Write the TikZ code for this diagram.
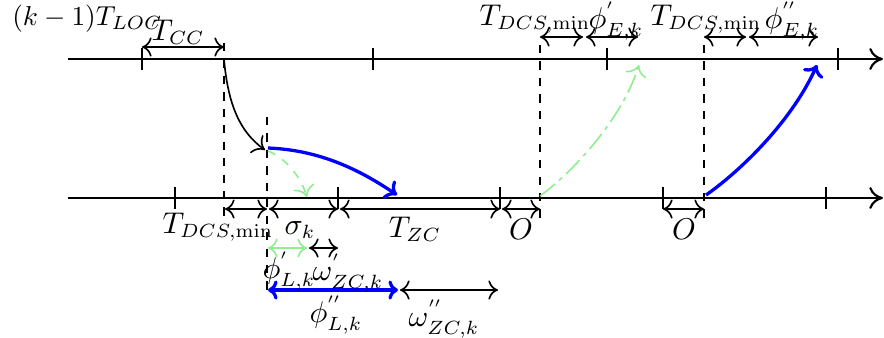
\documentclass[tikz,border=0pt]{standalone}
\usepackage{tikz}
\usetikzlibrary{arrows.meta, calc}
\definecolor{ltgreen}{RGB}{144,238,144}
\DeclareMathSizes{10.5}{10.5}{7.2}{5}

\begin{document}
\begin{tikzpicture}[
    x=0.365pt, y=-0.365pt,
    axis/.style={-{To[length=5pt, width=8pt]}, thick},
    tickmark/.style={thick},
    dim/.style={{To[length=3.5pt, width=7pt]}-{To[length=3.5pt, width=7pt]}, semithick},
    vguide/.style={dashed, semithick},
    flow/.style={-{To[length=4pt, width=8pt]}, semithick},
    lbl/.style={inner sep=1pt, font=\fontsize{10.5}{12}\selectfont}
]
    \useasboundingbox (0,0) rectangle (884,337);

    % axes
    \coordinate (topL) at (68,59);
    \coordinate (topR) at (883,59);
    \coordinate (botL) at (68,198);
    \coordinate (botR) at (883,198);
    \draw[axis] (topL) -- (topR);
    \draw[axis] (botL) -- (botR);
    \foreach \x in {142,373,607,838}
        \draw[tickmark] (\x,48) -- (\x,70);
    \foreach \x in {175,338,500,663,826}
        \draw[tickmark] (\x,187) -- (\x,209);

    % dashed guides
    \coordinate (g1a) at (224,43);  \coordinate (g1b) at (224,217);
    \coordinate (g2a) at (267,117); \coordinate (g2b) at (267,295);
    \coordinate (g3a) at (540,45);  \coordinate (g3b) at (540,224);
    \coordinate (g4a) at (704,45);  \coordinate (g4b) at (704,224);
    \foreach \a/\b in {g1a/g1b, g2a/g2b, g3a/g3b, g4a/g4b}
        \draw[vguide] (\a) -- (\b);

    % top dimensions
    \coordinate (cc0) at (142,47); \coordinate (cc1) at (224,47);
    \coordinate (da0) at (540,37); \coordinate (da1) at (583,37); \coordinate (ea1) at (638,37);
    \coordinate (db0) at (704,37); \coordinate (db1) at (746,37); \coordinate (eb1) at (818,37);
    \draw[dim] (cc0) -- (cc1);
    \draw[dim] (da0) -- (da1);
    \draw[dim] ($(da1)+(3,0)$) -- (ea1);
    \draw[dim] (db0) -- (db1);
    \draw[dim] ($(db1)+(3,0)$) -- (eb1);

    % bottom dimensions
    \coordinate (b0) at (225,209); \coordinate (b1) at (267,209);
    \coordinate (b2) at (338,209); \coordinate (b3) at (500,209);
    \coordinate (b4) at (540,209); \coordinate (b5) at (663,209);
    \coordinate (b6) at (704,209);
    \draw[dim] (b0) -- (b1);
    \draw[dim] ($(b1)+(2,0)$) -- (b2);
    \draw[dim] ($(b2)+(2,0)$) -- (b3);
    \draw[dim] ($(b3)+(2,0)$) -- (b4);
    \draw[dim] (b5) -- (b6);

    \coordinate (s0) at (268,248); \coordinate (s1) at (307,248); \coordinate (s2) at (338,248);
    \draw[dim, ltgreen] (s0) -- (s1);
    \draw[dim] ($(s1)+(2,0)$) -- (s2);
    \coordinate (w0) at (268,290); \coordinate (w1) at (398,290); \coordinate (w2) at (498,290);
    \draw[dim, blue, very thick] (w0) -- (w1);
    \draw[dim] ($(w1)+(2,0)$) -- (w2);

    % flows
    \coordinate (lk) at (265,150);
    \coordinate (bs) at (268,148); \coordinate (be) at (397,195);
    \coordinate (gs) at (268,151); \coordinate (ge) at (307,197);
    \coordinate (es1) at (540,196); \coordinate (ee1) at (639,65);
    \coordinate (es2) at (706,195); \coordinate (ee2) at (817,65);
    \draw[flow] (224,59) .. controls (228,105) and (240,132) .. (lk);
    \draw[flow, blue, very thick] (bs) .. controls (320,150) and (360,170) .. (be);
    \draw[flow, ltgreen, dashed] (gs) .. controls (285,158) and (300,175) .. (ge);
    \draw[flow, ltgreen, dash pattern=on 7pt off 2pt on 1.5pt off 2pt] (es1) .. controls (565,178) and (620,125) .. (ee1);
    \draw[flow, blue, very thick] (es2) .. controls (735,175) and (790,125) .. (ee2);

    % labels
    \node[lbl, anchor=west, font=\fontsize{10}{12}\selectfont] (loc) at (9,19) {$(k-1)T_{LOC}$};
    \node[lbl] (tcc) at (178,32) {$T_{CC}$};
    \node[lbl] (dcs1) at (535,19) {$T_{DCS,\min}$};
    \node[lbl] (phe1) at (616,21) {$\phi^{'}_{E,k}$};
    \node[lbl] (dcs2) at (706,19) {$T_{DCS,\min}$};
    \node[lbl] (phe2) at (792,21) {$\phi^{''}_{E,k}$};
    \node[lbl] (dcs3) at (218,227) {$T_{DCS,\min}$};
    \node[lbl] (sig) at (300,230) {$\sigma_k$};
    \node[lbl] (tzc) at (415,229) {$T_{ZC}$};
    \node[lbl] (o1) at (521,229) {$O$};
    \node[lbl] (o2) at (684,229) {$O$};
    \node[lbl] (phl1) at (289,271) {$\phi^{'}_{L,k}$};
    \node[lbl] (om1) at (348,273) {$\omega^{'}_{ZC,k}$};
    \node[lbl] (phl2) at (336,315) {$\phi^{''}_{L,k}$};
    \node[lbl] (om2) at (444,319) {$\omega^{''}_{ZC,k}$};
\end{tikzpicture}
\end{document}
